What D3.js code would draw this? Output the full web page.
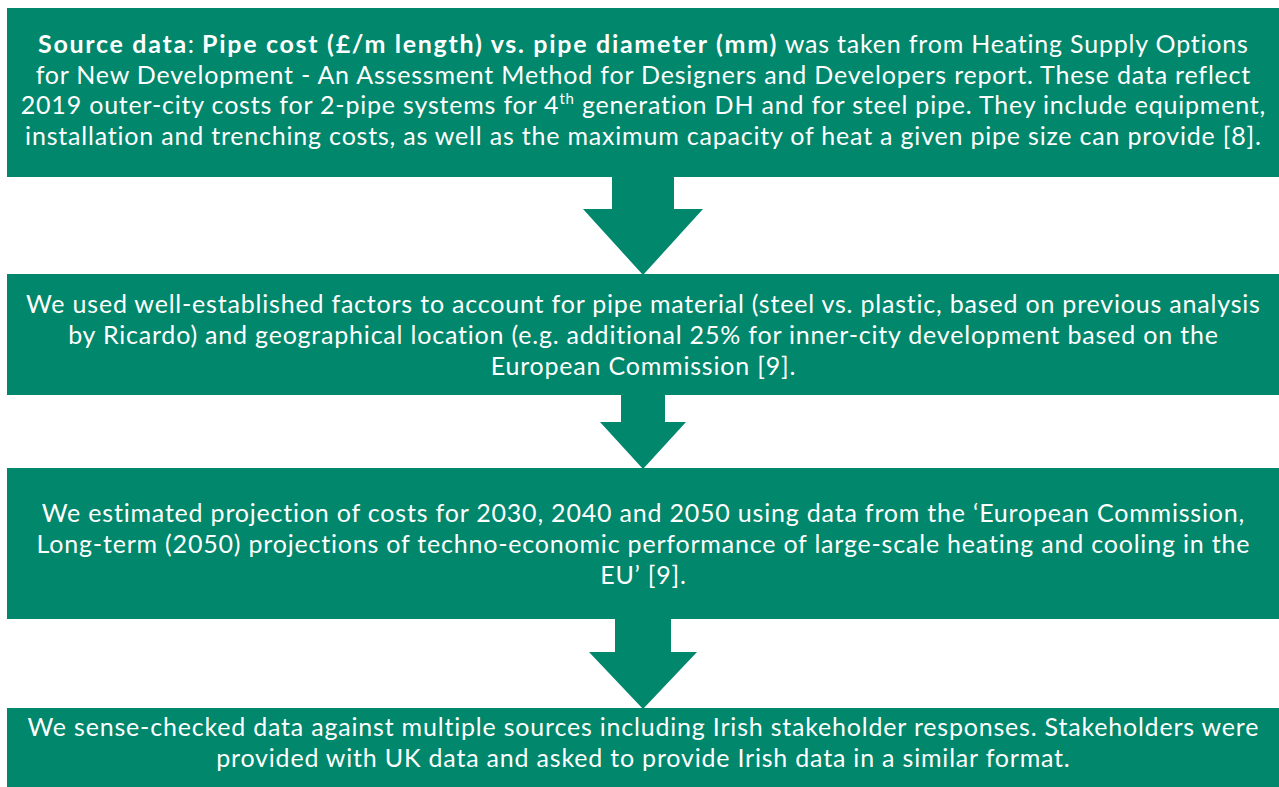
<!DOCTYPE html>
<html>
<head>
<meta charset="utf-8">
<script src="https://cdn.jsdelivr.net/npm/d3@7"></script>
<style>
  body { margin: 0; background: #fff; }
  svg text { font-family: Lato, "Open Sans", sans-serif; fill: #fff; }
</style>
</head>
<body>
<svg width="1279" height="787"></svg>
<script>
// **** Content ****
// each line is a list of segments: [text, style]  (b = bold, sup = superscript)
var box1Lines = [
    [["Source data", "b"], [": "], ["Pipe cost (£/m length) vs. pipe diameter (mm)", "b"], [" was taken from Heating Supply Options"]],
    [["for New Development - An Assessment Method for Designers and Developers report. These data reflect"]],
    [["2019 outer-city costs for 2-pipe systems for 4"], ["th", "sup"], [" generation DH and for steel pipe. They include equipment,"]],
    [["installation and trenching costs, as well as the maximum capacity of heat a given pipe size can provide [8]."]]
];
var box2Lines = [
    [["We used well-established factors to account for pipe material (steel vs. plastic, based on previous analysis"]],
    [["by Ricardo) and geographical location (e.g. additional 25% for inner-city development based on the"]],
    [["European Commission [9]."]]
];
var box3Lines = [
    [["We estimated projection of costs for 2030, 2040 and 2050 using data from the \u2018European Commission,"]],
    [["Long-term (2050) projections of techno-economic performance of large-scale heating and cooling in the"]],
    [["EU\u2019 [9]."]]
];
var box4Lines = [
    [["We sense-checked data against multiple sources including Irish stakeholder responses. Stakeholders were"]],
    [["provided with UK data and asked to provide Irish data in a similar format."]]
];
var boxTexts = [box1Lines, box2Lines, box3Lines, box4Lines];

// **** Layout ****
var green = "#00876c";
var fontSize = 25;
var tracking = 0.8;
var boxLeft = 7, boxRight = 1282, centerX = 643;
var boxes = [
    { top: 8,   bottom: 177, firstBase: 53,  lineGap: 30.5 },
    { top: 274, bottom: 395, firstBase: 313, lineGap: 31 },
    { top: 468, bottom: 619, firstBase: 522, lineGap: 31 },
    { top: 708, bottom: 800, firstBase: 736, lineGap: 31 }
];
// arrows: shaft half width, head half width, where head starts
var arrows = [
    { shaft: 31, head: 60, headY: 209 },
    { shaft: 22, head: 43, headY: 422 },
    { shaft: 28, head: 54, headY: 652 }
];

var svg = d3.select("svg");

// boxes
svg.selectAll("rect.box")
    .data(boxes)
    .enter()
    .append("rect")
    .attr("class", "box")
    .attr("x", boxLeft)
    .attr("y", function(d) { return d.top; })
    .attr("width", boxRight - boxLeft)
    .attr("height", function(d) { return d.bottom - d.top; })
    .attr("fill", green);

// arrows
svg.selectAll("path.arrow")
    .data(arrows)
    .enter()
    .append("path")
    .attr("class", "arrow")
    .attr("fill", green)
    .attr("d", function(d, i) {
        var y0 = boxes[i].bottom - 1, y1 = boxes[i + 1].top + 1;
        return "M" + (centerX - d.shaft) + "," + y0 +
            "L" + (centerX + d.shaft) + "," + y0 +
            "L" + (centerX + d.shaft) + "," + d.headY +
            "L" + (centerX + d.head) + "," + d.headY +
            "L" + centerX + "," + y1 +
            "L" + (centerX - d.head) + "," + d.headY +
            "L" + (centerX - d.shaft) + "," + d.headY + "Z";
    });

// text
boxes.forEach(function(b, i) {
    boxTexts[i].forEach(function(segs, j) {
        var t = svg.append("text")
            .attr("x", centerX + tracking / 2)
            .attr("y", b.firstBase + j * b.lineGap)
            .attr("text-anchor", "middle")
            .style("font-size", fontSize + "px")
            .style("letter-spacing", tracking + "px");
        segs.forEach(function(s, k) {
            var ts = t.append("tspan").text(s[0]);
            if (s[1] === "b") ts.style("font-weight", "bold").style("letter-spacing", (tracking + 0.9) + "px");
            if (s[1] === "sup") {
                ts.style("font-size", (fontSize * 0.6) + "px").attr("dy", -10);
            }
            // back to the baseline after a superscript
            if (k > 0 && segs[k - 1][1] === "sup") ts.attr("dy", 10);
        });
    });
});
</script>
</body>
</html>
